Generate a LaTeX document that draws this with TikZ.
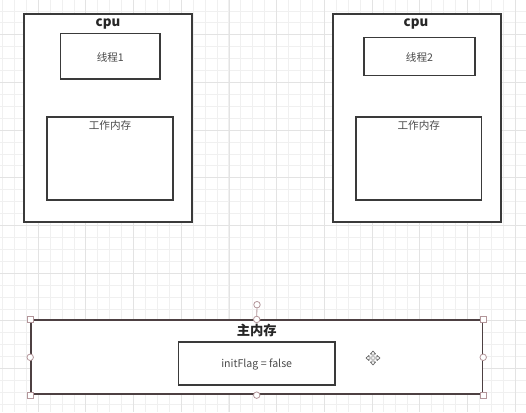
\documentclass[tikz,border=0pt]{standalone}
\usepackage{fontspec}
\setmainfont{Noto Sans CJK SC}
\definecolor{gridminor}{HTML}{F0F0F0}
\definecolor{gridmajor}{HTML}{E3E3E3}
\definecolor{boxline}{HTML}{3A3A3A}
\definecolor{selline}{HTML}{4D4042}
\definecolor{handle}{HTML}{B3969A}
\definecolor{txt}{HTML}{4A4A4A}
\begin{document}
\begin{tikzpicture}[x=1pt,y=-1pt,
  gmin/.style={draw=gridminor,line width=0.8pt},
  gmaj/.style={draw=gridmajor,line width=0.8pt},
  outerbox/.style={draw=boxline,fill=white,line width=1.3pt,minimum width=168pt,minimum height=208pt,inner sep=0pt},
  innerbox/.style={draw=boxline,fill=white,line width=1.2pt,inner sep=0pt},
  boldlabel/.style={font=\bfseries\fontsize{13.3}{15}\selectfont,text=black!85,inner sep=0pt},
  plainlabel/.style={font=\fontsize{10.6}{12}\selectfont,text=txt,inner sep=0pt},
  sqhandle/.style={draw=handle,fill=white,line width=0.8pt,minimum size=6pt,inner sep=0pt,rectangle},
  cihandle/.style={draw=handle,fill=white,line width=0.8pt,minimum size=6.5pt,inner sep=0pt,circle}]
\useasboundingbox (0,0) rectangle (526,412);
\fill[white] (0,0) rectangle (526,412);
% grid
\foreach \i in {0,...,44} \draw[gmin] ({2.4+11.92*\i},0) -- ({2.4+11.92*\i},412);
\foreach \i in {0,...,35} \draw[gmin] (0,{-1+11.92*\i}) -- (526,{-1+11.92*\i});
\foreach \i in {0,...,10} \draw[gmaj] ({38.2+47.68*\i},0) -- ({38.2+47.68*\i},412);
\foreach \i in {0,...,8} \draw[gmaj] (0,{34.7+47.68*\i}) -- (526,{34.7+47.68*\i});
% left cpu
\node[outerbox] (cpuA) at (108,118) {};
\node[boldlabel] (cpuAlabel) at (108,23.5) {cpu};
\node[innerbox,minimum width=99.5pt,minimum height=45.5pt] (thA) at (110.3,56.3) {};
\node[plainlabel] (thAlabel) at (110.3,57) {线程1};
\node[innerbox,minimum width=126pt,minimum height=83pt] (wmA) at (110,158.5) {};
\node[plainlabel] (wmAlabel) at (110,125) {工作内存};
% right cpu
\node[outerbox] (cpuB) at (417,118) {};
\node[boldlabel] (cpuBlabel) at (416,23.5) {cpu};
\node[innerbox,minimum width=111pt,minimum height=38pt] (thB) at (419.5,56.7) {};
\node[plainlabel] (thBlabel) at (419.5,57) {线程2};
\node[innerbox,minimum width=125.7pt,minimum height=83pt] (wmB) at (418.8,158.5) {};
\node[plainlabel] (wmBlabel) at (418.8,125) {工作内存};
% main memory
\node[draw=selline,fill=white,line width=1.7pt,minimum width=451.3pt,minimum height=74pt,inner sep=0pt] (mm) at (256.7,357.3) {};
\node[boldlabel] (mmlabel) at (256.7,330) {主内存};
\node[innerbox,line width=1.4pt,minimum width=156.7pt,minimum height=43pt] (flag) at (256.7,363.5) {};
\node[plainlabel] (flaglabel) at (256.7,364.5) {initFlag = false};
% selection handles
\node[cihandle] (rot) at (257,304.7) {};
\draw[handle,line width=0.8pt] (rot) -- (mm.north);
\node[sqhandle] (hnw) at (mm.north west) {};
\node[sqhandle] (hne) at (mm.north east) {};
\node[sqhandle] (hsw) at (mm.south west) {};
\node[sqhandle] (hse) at (mm.south east) {};
\node[cihandle] (hn) at (mm.north) {};
\node[cihandle] (hs) at (mm.south) {};
\node[cihandle] (hw) at (mm.west) {};
\node[cihandle] (he) at (mm.east) {};
% move cursor
\begin{scope}[shift={(373,358)}]
\draw[fill=white,draw=black!65,line width=0.6pt,line join=round]
 (0,-7) -- (2.6,-4) -- (0.9,-4) -- (0.9,-0.9) -- (4,-0.9) -- (4,-2.6) -- (7,0) -- (4,2.6) -- (4,0.9) -- (0.9,0.9) -- (0.9,4) -- (2.6,4) -- (0,7) -- (-2.6,4) -- (-0.9,4) -- (-0.9,0.9) -- (-4,0.9) -- (-4,2.6) -- (-7,0) -- (-4,-2.6) -- (-4,-0.9) -- (-0.9,-0.9) -- (-0.9,-4) -- (-2.6,-4) -- cycle;
\end{scope}
\end{tikzpicture}
\end{document}
